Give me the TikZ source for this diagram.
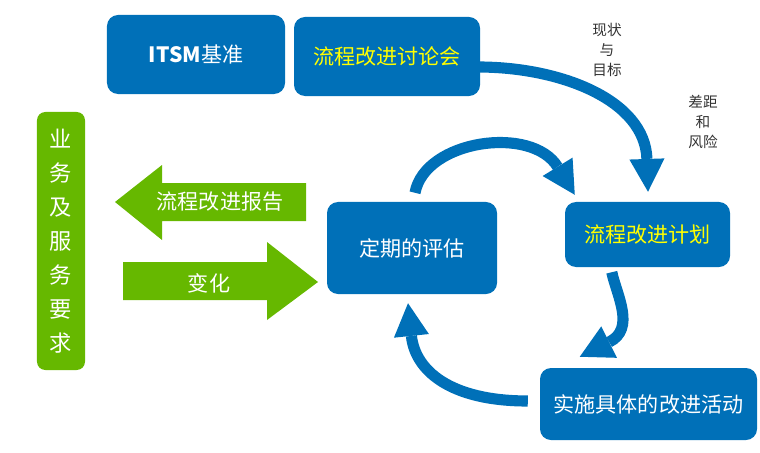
\documentclass[tikz,border=0pt]{standalone}
\usepackage{xcolor}
\usepackage{fontspec}
\setmainfont{Noto Sans CJK SC}
\usepackage{tikz}
\usetikzlibrary{arrows.meta}
\definecolor{bu60}{HTML}{0070B8}
\definecolor{gn60}{HTML}{66B800}
\definecolor{yw90}{HTML}{FFFF00}
\definecolor{gy80}{HTML}{333333}
\tikzset{
  bluebox/.style={rectangle, rounded corners=0.33cm, fill=bu60, inner sep=0pt,
                  font=\fontsize{18}{22}\selectfont, text=white},
  greentext/.style={font=\fontsize{18}{22}\selectfont, text=white, inner sep=0pt},
  cyclearrow/.style={draw=bu60, line width=9.5pt,
                     -{Triangle[length=28pt,width=30pt,line width=0pt]}},
  sidenote/.style={font=\fontsize{12.5}{17}\selectfont, text=gy80, align=center, inner sep=0pt}
}

\begin{document}
\begin{tikzpicture}[x=0.03cm, y=-0.03cm]
  \useasboundingbox (0,0) rectangle (760,453);

  \node[bluebox, minimum width=5.34cm, minimum height=2.37cm] (itsm) at (196,54.5) {\textbf{ITSM}基准};
  \node[bluebox, minimum width=5.58cm, minimum height=2.37cm, text=yw90] (disc) at (387,56.5) {流程改进讨论会};
  \node[bluebox, minimum width=5.1cm, minimum height=2.76cm] (eval) at (412,248) {定期的评估};
  \node[bluebox, minimum width=4.95cm, minimum height=1.95cm, text=yw90] (plan) at (647.5,234.5) {流程改进计划};
  \node[bluebox, minimum width=6.51cm, minimum height=2.16cm] (act) at (648.5,404) {实施具体的改进活动};

  \node[rectangle, rounded corners=0.25cm, fill=gn60, minimum width=1.44cm, minimum height=7.74cm,
        inner sep=0pt, text=white, align=center, font=\fontsize{19}{29}\selectfont] (req) at (61,241)
        {业\\务\\及\\服\\务\\要\\求};

  \fill[gn60] (115,202) -- (162,165) -- (162,183) -- (306,183) -- (306,221) -- (162,221) -- (162,240) -- cycle;
  \node[greentext] (report) at (220,202) {流程改进报告};
  \fill[gn60] (123,262) -- (267,262) -- (267,242) -- (318,282) -- (267,320) -- (267,300) -- (123,300) -- cycle;
  \node[greentext] (change) at (209,283) {变化};

  \node[sidenote] (status) at (607,50) {现状\\与\\目标};
  \node[sidenote] (gaps) at (703,122) {差距\\和\\风险};

  \draw[cyclearrow] ([shift={(3,-9)}]eval.north) .. controls +(10,-53) and +(-43,-70) .. ([shift={(10,-7)}]plan.north west);
  \draw[cyclearrow] ([shift={(-2,10.5)}]disc.east) .. controls +(82,0) and +(-3,-92) .. ([shift={(0.5,-10)}]plan.north);
  \draw[cyclearrow] ([shift={(47,5)}]plan.south west) .. controls +(5,23) and +(56,-28) .. ([shift={(40,-11)}]act.north west);
  \draw[cyclearrow] ([shift={(-12,-3)}]act.west) .. controls +(-78,0) and +(7,67) .. ([shift={(-4,9)}]eval.south);
\end{tikzpicture}
\end{document}
